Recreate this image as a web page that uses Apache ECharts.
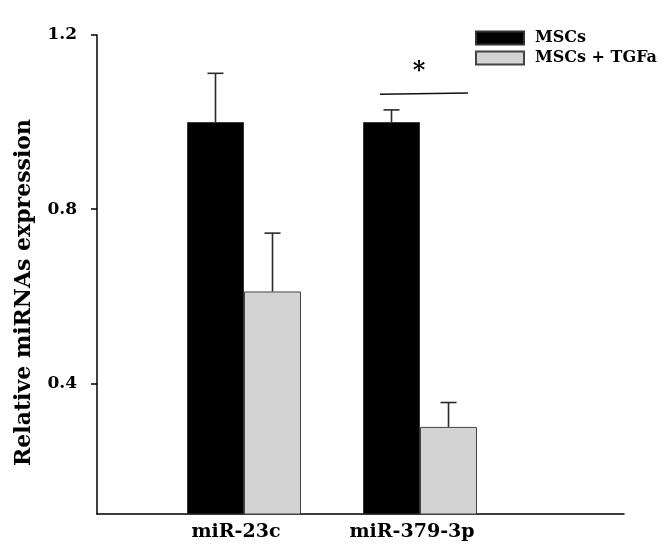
<!DOCTYPE html>
<html>
<head>
<meta charset="utf-8">
<script src="https://cdn.jsdelivr.net/npm/echarts@6/dist/echarts.min.js"></script>
<style>html,body{margin:0;padding:0;background:#fff}#c{width:672px;height:557px}</style>
</head>
<body>
<div id="c"></div>
<script>
// ---- data ----
const categories = ['miR-23c', 'miR-379-3p'];
const seriesNames = ['MSCs', 'MSCs + TGFa'];
const mscsMean = [1.0, 1.0];
const mscsErr = [0.112, 0.028];
const tgfaMean = [0.611, 0.3];
const tgfaErr = [0.134, 0.056];
const yTicks = [0.4, 0.8, 1.2];
const yTitle = 'Relative miRNAs expression';
const sigMark = '*';

const FONT = 'DejaVu Serif';
const BAR_W = 57;
const catPos = categories.map((c, i) => i + 1);

function barData(means) { return means.map((m, i) => [catPos[i], m]); }
function errData(means, errs) { return means.map((m, i) => [catPos[i], m, m + errs[i]]); }

function errRender(offset) {
  return function (params, api) {
    const x = api.value(0);
    const p0 = api.coord([x, api.value(1)]);
    const p1 = api.coord([x, api.value(2)]);
    const cx = p0[0] + offset;
    return {
      type: 'group',
      children: [
        { type: 'line', shape: { x1: cx, y1: p0[1], x2: cx, y2: p1[1] }, style: { stroke: '#2a2a2a', lineWidth: 1.6 } },
        { type: 'line', shape: { x1: cx - 8, y1: p1[1], x2: cx + 8, y2: p1[1] }, style: { stroke: '#2a2a2a', lineWidth: 1.6 } }
      ]
    };
  };
}

const chart = echarts.init(document.getElementById('c'), null, { renderer: 'canvas' });
chart.setOption({
  animation: false,
  backgroundColor: '#fff',
  grid: { left: 97, right: 48, top: 35, bottom: 43 },
  legend: {
    orient: 'vertical', left: 470, top: 25,
    itemWidth: 48, itemHeight: 13, itemGap: 4,
    icon: 'rect',
    data: seriesNames,
    textStyle: { fontFamily: FONT, fontWeight: 'bold', fontSize: 16, color: '#000', padding: [0, 0, 0, 6] }
  },
  xAxis: {
    type: 'value', min: 0.1648, max: 3.159,
    splitLine: { show: false },
    axisLine: { show: true, onZero: false, lineStyle: { color: '#000', width: 1.5 } },
    axisTick: { show: false },
    axisLabel: {
      customValues: catPos,
      formatter: v => categories[Math.round(v) - 1] || '',
      fontFamily: FONT, fontWeight: 'bold', fontSize: 19, color: '#000', margin: 9,
      padding: [0, 16, 0, 0]
    }
  },
  yAxis: {
    type: 'value', min: 0.1, max: 1.2,
    name: yTitle, nameLocation: 'middle', nameGap: 62,
    nameTextStyle: { fontFamily: FONT, fontWeight: 'bold', fontSize: 22, color: '#000', padding: [0, 36, 0, 0] },
    splitLine: { show: false },
    axisLine: { show: true, lineStyle: { color: '#000', width: 1.5 } },
    axisTick: { show: true, customValues: yTicks, length: 6, lineStyle: { color: '#000', width: 1.5 } },
    axisLabel: {
      customValues: yTicks,
      formatter: v => v.toFixed(1),
      fontFamily: FONT, fontWeight: 'bold', fontSize: 17, color: '#000', margin: 20
    }
  },
  series: [
    {
      name: seriesNames[0], type: 'bar', data: barData(mscsMean), barWidth: BAR_W, barGap: '0%', clip: true,
      itemStyle: { color: '#000', borderColor: '#333', borderWidth: 1 }
    },
    {
      name: seriesNames[1], type: 'bar', data: barData(tgfaMean), barWidth: BAR_W, barGap: '0%', clip: true,
      itemStyle: { color: '#d3d3d3', borderColor: '#444', borderWidth: 1 }
    },
    { type: 'custom', data: errData(mscsMean, mscsErr), renderItem: errRender(-BAR_W / 2), z: 5, silent: true },
    { type: 'custom', data: errData(tgfaMean, tgfaErr), renderItem: errRender(BAR_W / 2), z: 5, silent: true },
    {
      type: 'custom', z: 5, silent: true,
      data: [[catPos[1] - 0.227, 1.064, catPos[1] + 0.273, 1.067]],
      renderItem: function (params, api) {
        const a = api.coord([api.value(0), api.value(1)]);
        const b = api.coord([api.value(2), api.value(3)]);
        return {
          type: 'group',
          children: [
            { type: 'line', shape: { x1: a[0], y1: a[1], x2: b[0], y2: b[1] }, style: { stroke: '#111', lineWidth: 1.5 } },
            { type: 'text', style: { text: sigMark, x: (a[0] + b[0]) / 2 - 5, y: a[1] - 22, align: 'center', verticalAlign: 'middle',
              font: 'bold 24px "DejaVu Serif"', fill: '#000' } }
          ]
        };
      }
    }
  ]
});
</script>
</body>
</html>
